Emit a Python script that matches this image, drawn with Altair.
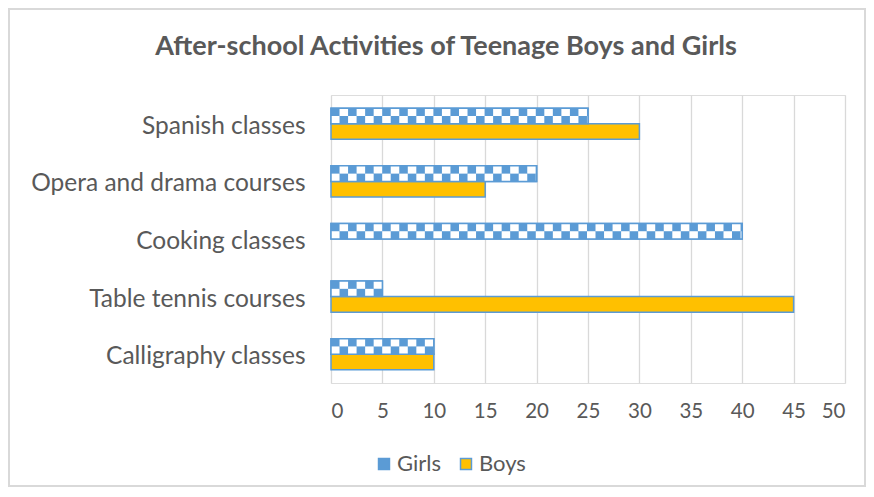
import json
import math
import altair as alt
import pandas as pd

categories = ["Spanish classes", "Opera and drama courses", "Cooking classes",
              "Table tennis courses", "Calligraphy classes"]
girls = [25, 20, 40, 5, 10]
boys = [30, 15, 0, 45, 10]
series = ["Girls", "Boys"]

BLUE = "#5B9BD5"
GOLD = "#FFC000"
TEXT = "#595959"
FONT = "Lato"
HALF = 0.27      # bar thickness in category units
CELL = 0.83      # checker cell width in x units

rows = []
for i, cat in enumerate(categories):
    c = i + 0.5
    rows.append(dict(cat=cat, series="Girls", v=girls[i], y0=c - HALF, y1=c))
    rows.append(dict(cat=cat, series="Boys", v=boys[i], y0=c, y1=c + HALF))
bars = pd.DataFrame(rows)

cells = []
for i, cat in enumerate(categories):
    c = i + 0.5
    v = girls[i]
    n = math.ceil(v / CELL)
    for k in range(n):
        x0 = k * CELL
        x1 = min((k + 1) * CELL, v)
        if k % 2 == 1:
            cells.append(dict(x0=x0, x1=x1, y0=c - HALF, y1=c - HALF / 2))
        else:
            cells.append(dict(x0=x0, x1=x1, y0=c - HALF / 2, y1=c))
cells = pd.DataFrame(cells)

label_expr = json.dumps(categories) + "[floor(datum.value)]"

xscale = alt.Scale(domain=[0, 50], nice=False)
yscale = alt.Scale(domain=[0, 5], reverse=True, nice=False, zero=False)

base_x = alt.X("v:Q", scale=xscale, axis=alt.Axis(
    values=list(range(0, 51, 5)), title=None, grid=True, gridColor="#D9D9D9",
    gridWidth=1.3, domain=False, ticks=False, labelFontSize=20.5, labelColor=TEXT,
    labelFont=FONT, labelPadding=18))
base_y = alt.Y("y0:Q", scale=yscale, axis=alt.Axis(
    values=[i + 0.5 for i in range(len(categories))], labelExpr=label_expr,
    title=None, grid=False, domain=False, ticks=False, labelFontSize=24.5,
    labelColor=TEXT, labelFont=FONT, labelPadding=26, labelLimit=400,
    labelOffset=2.5))

bar_layer = alt.Chart(bars).transform_filter(alt.datum.v > 0).mark_rect(
    stroke=BLUE, strokeWidth=1.5).encode(
    x=base_x,
    x2=alt.value(0),
    y=base_y,
    y2="y1:Q",
    color=alt.Color("series:N", scale=alt.Scale(domain=series, range=[BLUE, GOLD]),
                    legend=alt.Legend(title=None, orient="none", direction="horizontal",
                                      legendX=42, legendY=358, symbolType="square",
                                      symbolSize=120, symbolStrokeColor=BLUE,
                                      symbolStrokeWidth=1.5, labelFontSize=22,
                                      labelColor=TEXT, labelFont=FONT,
                                      columnPadding=14, labelOffset=2)),
)

cell_layer = alt.Chart(cells).mark_rect(fill="white", strokeWidth=0).encode(
    x=alt.X("x0:Q", scale=xscale),
    x2="x1:Q",
    y=alt.Y("y0:Q", scale=yscale),
    y2="y1:Q",
)

outline_layer = alt.Chart(bars).transform_filter(alt.datum.series == "Girls").mark_rect(
    fill=None, fillOpacity=0, stroke=BLUE, strokeWidth=1.5).encode(
    x=alt.X("v:Q", scale=xscale),
    x2=alt.value(0),
    y=alt.Y("y0:Q", scale=yscale),
    y2="y1:Q",
)

border = alt.Chart(bars).mark_rect(fill=None, fillOpacity=0, stroke="#D9D9D9",
                                    strokeWidth=1.3).encode(
    x=alt.value(-322), x2=alt.value(534), y=alt.value(-86), y2=alt.value(391))

chart = alt.layer(border, bar_layer, cell_layer, outline_layer).properties(
    width=514, height=288,
    title=alt.Title("After-school Activities of Teenage Boys and Girls",
                    fontSize=27, fontWeight="bold", color=TEXT, font=FONT,
                    anchor="middle", dx=-142, offset=-53),
    autosize=alt.AutoSizeParams(type="none"),
    padding={"left": 323, "top": 87, "right": 21, "bottom": 106},
).configure_view(stroke=None).configure(background="white")

chart.save("out.html", embed_options={"renderer": "svg", "actions": False})
